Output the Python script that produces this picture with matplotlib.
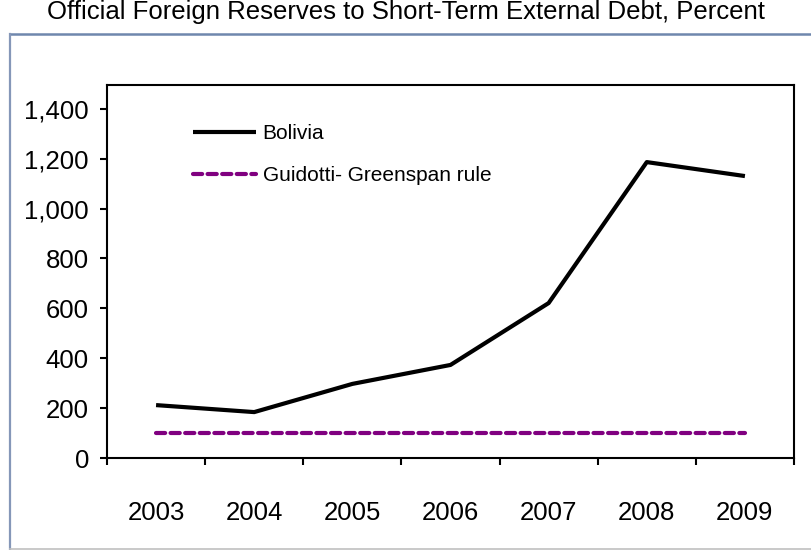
import matplotlib
matplotlib.use('Agg')
import matplotlib.pyplot as plt
from matplotlib.lines import Line2D
import numpy as np

plt.rcParams['font.family'] = ['Liberation Sans', 'DejaVu Sans']

years = ['2003', '2004', '2005', '2006', '2007', '2008', '2009']
bolivia = [212, 184, 297, 373, 621, 1186, 1130]
guidotti_greenspan = [100, 100, 100, 100, 100, 100, 100]
yticks = [0, 200, 400, 600, 800, 1000, 1200, 1400]

W, H = 812, 550
fig = plt.figure(figsize=(W / 100, H / 100), dpi=100)

# outer frame: blue-grey top and left, light grey bottom
fig.add_artist(Line2D([10 / W, 1.0], [1 - 34 / H, 1 - 34 / H], color='#6f87ad', lw=1.8))
fig.add_artist(Line2D([10 / W, 10 / W], [1 - 34 / H, 1 - 549 / H], color='#8597b8', lw=1.6))
fig.add_artist(Line2D([10 / W, 1.0], [1 - 549 / H, 1 - 549 / H], color='#c0c0c0', lw=1.2))

fig.text(0.5, 1 - 12 / H, 'Official Foreign Reserves to Short-Term External Debt, Percent',
         ha='center', va='center', fontsize=18.5)

ax = fig.add_axes([107 / W, (H - 458) / H, (794 - 107) / W, (458 - 85) / H])
x = np.arange(len(years)) + 0.5
ax.plot(x, bolivia, color='black', lw=3, label='Bolivia', solid_capstyle='butt')
ax.plot(x, guidotti_greenspan, color='#800080', lw=3, ls=(0, (2.2, 1.3)),
        dash_capstyle='round', label='Guidotti- Greenspan rule')

ax.set_xlim(0, len(years))
ax.set_ylim(0, 1495)
ax.set_yticks(yticks)
ax.set_yticklabels([f'{v:,}' for v in yticks])
ax.set_xticks(x)
ax.set_xticklabels(years)
ax.set_xticks(np.arange(len(years) + 1), minor=True)

for s in ax.spines.values():
    s.set_linewidth(1.5)
    s.set_color('black')
ax.tick_params(axis='y', direction='out', length=5, width=1.5, labelsize=18.5, pad=8)
ax.tick_params(axis='x', which='major', length=0, labelsize=18.5, pad=31)
ax.tick_params(axis='x', which='minor', direction='out', length=5, width=1.5)

ax.legend(loc='upper left', bbox_to_anchor=(0.125, 0.896), frameon=False, fontsize=15,
          handlelength=3.05, handletextpad=0.3, labelspacing=1.11, borderpad=0,
          borderaxespad=0)

fig.savefig('out.png', dpi=100)
